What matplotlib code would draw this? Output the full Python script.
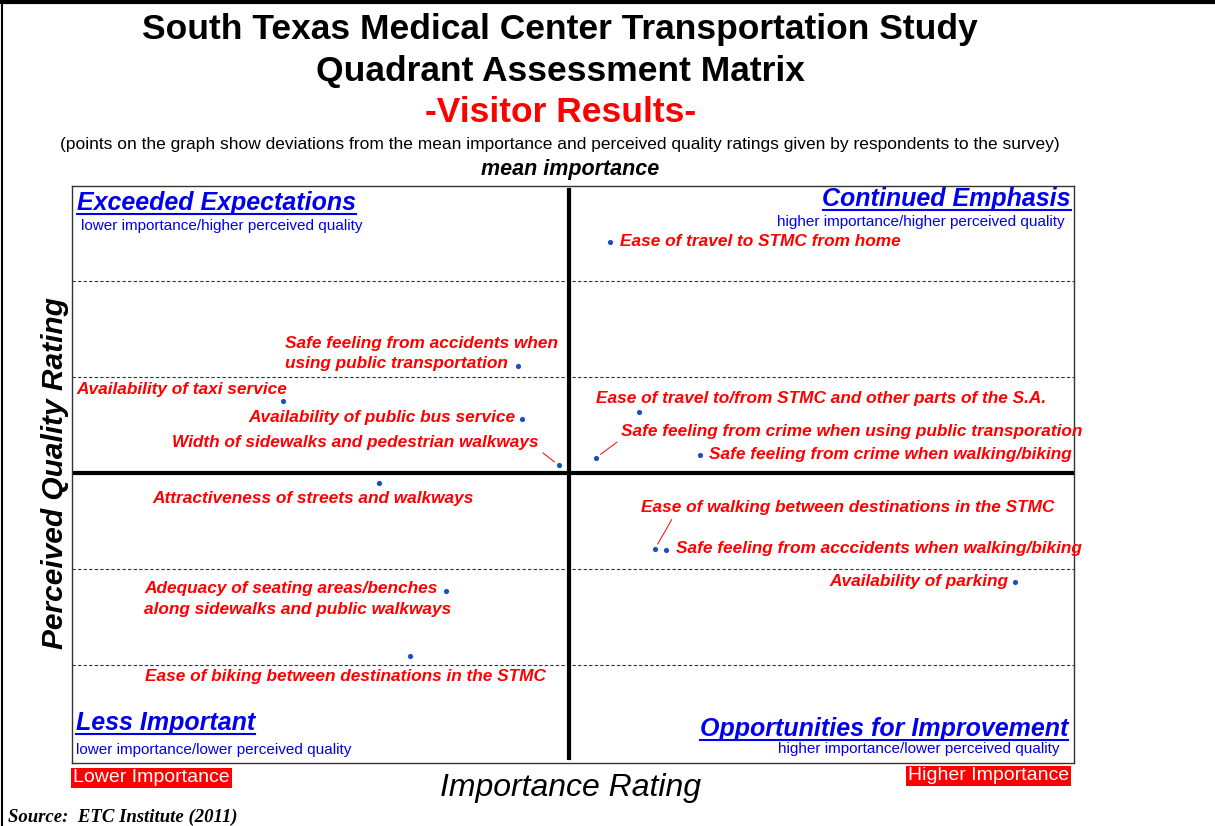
import matplotlib.pyplot as plt
from matplotlib.lines import Line2D

W, H = 1215, 826

# deviation from mean importance (x) and mean perceived quality (y)
items = [
    "Ease of travel to STMC from home",
    "Safe feeling from accidents when\nusing public transportation",
    "Availability of taxi service",
    "Availability of public bus service",
    "Width of sidewalks and pedestrian walkways",
    "Ease of travel to/from STMC and other parts of the S.A.",
    "Safe feeling from crime when using public transporation",
    "Safe feeling from crime when walking/biking",
    "Attractiveness of streets and walkways",
    "Ease of walking between destinations in the STMC",
    "Safe feeling from acccidents when walking/biking",
    "Availability of parking",
    "Adequacy of seating areas/benches\nalong sidewalks and public walkways",
    "Ease of biking between destinations in the STMC",
]
importance_dev = [0.41, -0.51, -2.86, -0.47, -0.10, 0.70, 0.27, 1.31, -1.90, 0.86, 0.97, 4.46, -1.23, -1.59]
quality_dev = [2.41, 1.12, 0.75, 0.56, 0.08, 0.64, 0.16, 0.19, -0.10, -0.79, -0.80, -1.13, -1.23, -1.91]

quadrants = ["Exceeded Expectations", "Continued Emphasis", "Less Important", "Opportunities for Improvement"]
quadrant_notes = [
    "lower importance/higher perceived quality",
    "higher importance/higher perceived quality",
    "lower importance/lower perceived quality",
    "higher importance/lower perceived quality",
]

# label placement: offset in pixels, alignment, connector anchor on the text box
label_layout = [
    (10, 0, "left", None),
    (-233, 12, "left", None),
    (-207, 12, "left", None),
    (-7, 2, "right", None),
    (-20, 23, "right", (1.0, 0.0)),
    (-43, 13, "left", None),
    (25, 26, "left", (0.0, 0.0)),
    (9, 0, "left", None),
    (-66, -16, "center", None),
    (-14, 41, "left", (0.08, 0.0)),
    (10, 1, "left", None),
    (-7, 0, "right", None),
    (-302, -8, "left", None),
    (-265, -20, "left", None),
]


def fpos(x, y):
    return x / W, 1 - y / H


plt.rcParams["font.family"] = ["Liberation Sans", "DejaVu Sans"]
fig = plt.figure(figsize=(W / 100, H / 100), dpi=100)
ax = fig.add_axes([72 / W, 1 - 763 / H, (1074 - 72) / W, (763 - 186) / H])
ax.set_xlim(-4.97, 5.05)
ax.set_ylim(-3.02, 2.99)
ax.set_xticks([])
ax.set_yticks([])
for s in ax.spines.values():
    s.set_color("#333333")
    s.set_linewidth(1.0)

for yv in [-2, -1, 1, 2]:
    ax.axhline(yv, color="#333333", lw=0.8, ls=(0, (3, 2)), zorder=1)
ax.axhline(0, color="black", lw=3, xmin=0.003, xmax=0.998, zorder=2)
ax.axvline(0, color="black", lw=3, ymin=0.008, ymax=0.993, zorder=2)

ax.scatter(importance_dev, quality_dev, s=14, color="#1a4fc4", zorder=4, linewidths=0)

for name, x, y, (dx, dy, ha, rel) in zip(items, importance_dev, quality_dev, label_layout):
    arrow = None
    if rel is not None:
        arrow = dict(arrowstyle="-", color="red", lw=0.7, relpos=rel, shrinkA=1, shrinkB=4)
    ax.annotate(name, (x, y), xytext=(dx, dy), textcoords="offset pixels",
                ha=ha, va="center", multialignment="left", linespacing=1.45, color="red",
                fontsize=12.4, fontweight="bold", fontstyle="italic",
                arrowprops=arrow, zorder=5)

# quadrant headings
head_pos = [(77, 203, "left"), (1071, 199, "right"), (76, 723, "left"), (1068, 729, "right")]
note_pos = [(81, 226, "left"), (1065, 222, "right"), (76, 750, "left"), (1060, 749, "right")]
heads = []
for txt, (x, y, ha) in zip(quadrants, head_pos):
    heads.append(fig.text(*fpos(x, y), txt, ha=ha, va="center", color="#0000ee",
                          fontsize=18, fontweight="bold", fontstyle="italic"))
for txt, (x, y, ha) in zip(quadrant_notes, note_pos):
    fig.text(*fpos(x, y), txt, ha=ha, va="center", color="#0000ee", fontsize=11)

# titles
fig.text(*fpos(560, 30), "South Texas Medical Center Transportation Study", ha="center", va="center",
         fontsize=25.5, fontweight="bold")
fig.text(*fpos(560, 71), "Quadrant Assessment Matrix", ha="center", va="center",
         fontsize=25.5, fontweight="bold")
fig.text(*fpos(561, 112), "-Visitor Results-", ha="center", va="center",
         fontsize=25.5, fontweight="bold", color="red")
fig.text(*fpos(560, 145), "(points on the graph show deviations from the mean importance and perceived quality "
         "ratings given by respondents to the survey)", ha="center", va="center", fontsize=12.5)
fig.text(*fpos(570, 169), "mean importance", ha="center", va="center",
         fontsize=15.5, fontweight="bold", fontstyle="italic")

fig.text(*fpos(55, 473), "Perceived Quality Rating", ha="center", va="center", rotation=90,
         fontsize=21.5, fontweight="bold", fontstyle="italic")
fig.text(*fpos(571, 788), "Importance Rating", ha="center", va="center",
         fontsize=23, fontstyle="italic")

fig.text(*fpos(73, 778), "Lower Importance", ha="left", va="center", color="white", fontsize=14,
         bbox=dict(boxstyle="square,pad=0.1", fc="red", ec="none"))
fig.text(*fpos(1069, 776), "Higher Importance", ha="right", va="center", color="white", fontsize=14,
         bbox=dict(boxstyle="square,pad=0.1", fc="red", ec="none"))

fig.text(*fpos(8, 817), "Source:  ETC Institute (2011)", ha="left", va="center",
         family=["Liberation Serif", "DejaVu Serif"], fontsize=13.5, fontweight="bold", fontstyle="italic")

# page frame
fig.add_artist(Line2D([0, 0.998], [0.997, 0.997], color="black", lw=3, transform=fig.transFigure))
fig.add_artist(Line2D([0.002, 0.002], [0, 0.997], color="black", lw=1.5, transform=fig.transFigure))

# underline the quadrant headings
fig.canvas.draw()
r = fig.canvas.get_renderer()
for t in heads:
    bb = t.get_window_extent(r)
    yl = bb.y0 + 1
    fig.add_artist(Line2D([bb.x0 / W, bb.x1 / W], [yl / H, yl / H], color="#0000ee", lw=1.5,
                          transform=fig.transFigure))

fig.savefig("out.png", dpi=100)
